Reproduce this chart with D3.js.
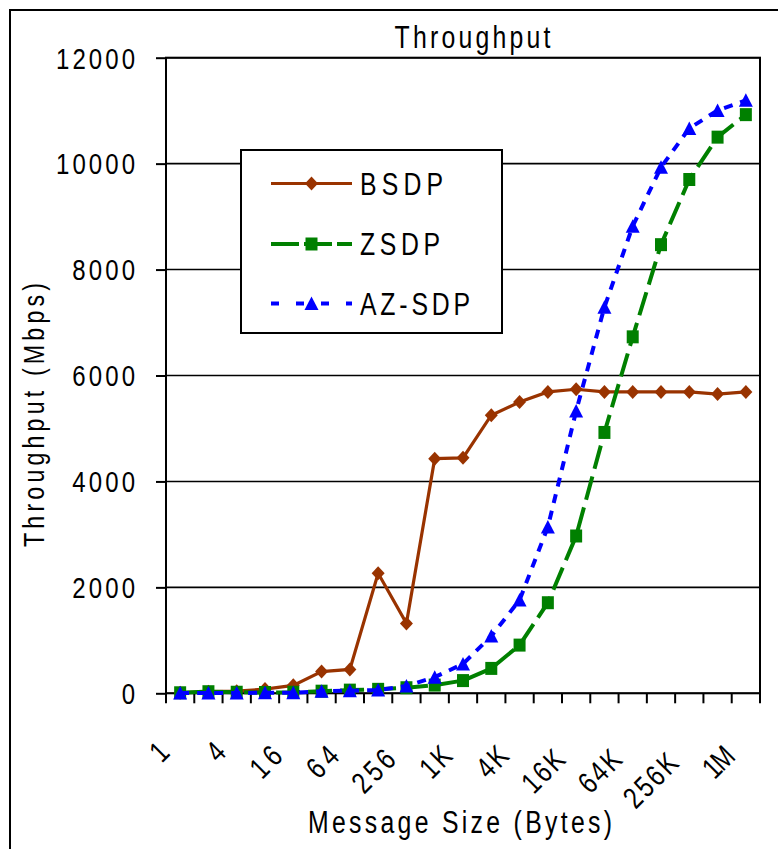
<!DOCTYPE html>
<html>
<head>
<meta charset="utf-8">
<script src="https://cdn.jsdelivr.net/npm/d3@7"></script>
<style>
body { margin: 0; background: #fff; }
text { font-family: "Liberation Sans", Arial, sans-serif; fill: #000; }
</style>
</head>
<body>
<div id="chart"></div>
<script>
// message sizes (2^0 .. 2^20 bytes)
var sizes = ["1","2","4","8","16","32","64","128","256","512","1K","2K","4K","8K","16K","32K","64K","128K","256K","512K","1M"];
var bsdp  = [10,30,40,80,150,410,450,2265,1320,4430,4445,5250,5500,5690,5740,5690,5690,5690,5690,5650,5690];
var zsdp  = [10,30,20,15,20,40,60,75,105,155,240,470,910,1710,2970,4925,6730,8470,9700,10500,10925];
var azsdp = [5,5,5,10,10,40,50,60,140,305,555,1080,1760,3140,5330,7290,8820,9930,10665,11005,11195];
var yTicks = [0,2000,4000,6000,8000,10000,12000];
var seriesNames = ["BSDP","ZSDP","AZ-SDP"];

var svgWidth = 778;
var svgHeight = 849;
var margin = { top: 57.7, left: 166, right: 18, bottom: 155.7 };
var width = svgWidth - margin.left - margin.right;
var height = svgHeight - margin.top - margin.bottom;
var narrow = 0.8; // the chart font is a condensed face with wide spacing

var svg = d3.select("#chart")
    .append("svg")
    .attr("width", svgWidth)
    .attr("height", svgHeight);

// condensed, letter-spaced text
function label(parent, tx, ty, rot, str, size, len, anchor) {
    var t = parent.append("text")
        .attr("transform", `translate(${tx}, ${ty}) rotate(${rot}) scale(${narrow}, 1)`)
        .attr("text-anchor", anchor)
        .attr("font-size", size)
        .text(str);
    if (str.length > 1) {
        t.attr("textLength", len / narrow).attr("lengthAdjust", "spacing");
    }
    return t;
}

// outer frame
svg.append("rect")
    .attr("x", 10).attr("y", 10)
    .attr("width", 800).attr("height", 900)
    .attr("fill", "none").attr("stroke", "#000").attr("stroke-width", 2);

var g = svg.append("g")
    .attr("transform", `translate(${margin.left}, ${margin.top})`);

var x = d3.scaleBand().domain(sizes).range([0, width]);
var y = d3.scaleLinear().domain([0, 12000]).range([height, 0]);
var cx = d => x(d) + x.bandwidth() / 2;

// gridlines
g.selectAll(".grid")
    .data(yTicks)
    .enter().append("line")
    .attr("x1", 0).attr("x2", width)
    .attr("y1", d => y(d)).attr("y2", d => y(d))
    .attr("stroke", "#000").attr("stroke-width", 1.6);

// plot frame
g.append("rect")
    .attr("width", width).attr("height", height)
    .attr("fill", "none").attr("stroke", "#000").attr("stroke-width", 2);

// y axis ticks + labels
var leftAxis = d3.axisLeft(y).tickValues(yTicks).tickSize(10).tickFormat(() => "");
var ya = g.append("g").call(leftAxis);
ya.select(".domain").remove();
ya.selectAll("line").attr("stroke", "#000").attr("stroke-width", 2);
yTicks.forEach(function (v) {
    var s = String(v);
    label(g, -31, y(v) + 10.8, 0, s, 30, s.length * 16.2 - 2, "end");
});

// x ticks at band boundaries
var xTickPos = sizes.map(d => x(d)).concat([width]);
g.selectAll(".xtick")
    .data(xTickPos)
    .enter().append("line")
    .attr("x1", d => d).attr("x2", d => d)
    .attr("y1", height).attr("y2", height + 10)
    .attr("stroke", "#000").attr("stroke-width", 2);

// x labels, every other size, rotated (longer labels sit a little lower)
sizes.filter((d, i) => i % 2 === 0).forEach(function (d) {
    label(g, cx(d) - 9, height + 57.5 + 3.6 * d.length, -45, d, 30, d.length * 15.8, "end");
});

// titles
label(svg, 472.5, 48, 0, "Throughput", 31, 156, "middle");
label(svg, 44, 415, -90, "Throughput (Mbps)", 29, 264, "middle");
label(svg, 460, 833, 0, "Message Size (Bytes)", 31, 304, "middle");

// series
var series = [
    { name: seriesNames[0], values: bsdp,  color: "#993300", dash: null,   width: 3.2, shape: "diamond", len: 83 },
    { name: seriesNames[1], values: zsdp,  color: "#008000", dash: "24,8", width: 4,   shape: "square",  len: 80 },
    { name: seriesNames[2], values: azsdp, color: "#0000ff", dash: "9,8",  width: 4,   shape: "triangle", len: 110 }
];

function markerPath(shape) {
    if (shape === "diamond") return "M0,-7L6.5,0L0,7L-6.5,0Z";
    if (shape === "square") return "M-6,-6.5L6,-6.5L6,6.5L-6,6.5Z";
    return "M0,-7L7,6.5L-7,6.5Z";
}

var line = d3.line()
    .x((d, i) => cx(sizes[i]))
    .y(d => y(d));

series.forEach(function (s) {
    g.append("path")
        .datum(s.values)
        .attr("d", line)
        .attr("fill", "none")
        .attr("stroke", s.color)
        .attr("stroke-width", s.width)
        .attr("stroke-dasharray", s.dash);
    g.selectAll(null)
        .data(s.values)
        .enter().append("path")
        .attr("d", markerPath(s.shape))
        .attr("transform", (d, i) => `translate(${cx(sizes[i])}, ${y(d)})`)
        .attr("fill", s.color);
});

// legend
var legend = svg.append("g");
legend.append("rect")
    .attr("x", 241).attr("y", 150)
    .attr("width", 261).attr("height", 183)
    .attr("fill", "#fff").attr("stroke", "#000").attr("stroke-width", 2);

var legendY = [183.5, 244, 303.5];
var legendDash = [null, "28,5", "8,17"];
series.forEach(function (s, i) {
    legend.append("line")
        .attr("x1", 271).attr("x2", 352)
        .attr("y1", legendY[i]).attr("y2", legendY[i])
        .attr("stroke", s.color).attr("stroke-width", s.width)
        .attr("stroke-dasharray", legendDash[i]);
    legend.append("path")
        .attr("d", markerPath(s.shape))
        .attr("transform", `translate(311.5, ${legendY[i]})`)
        .attr("fill", s.color);
    label(legend, 360, legendY[i] + 11, 0, s.name, 31, s.len, "start");
});
</script>
</body>
</html>
